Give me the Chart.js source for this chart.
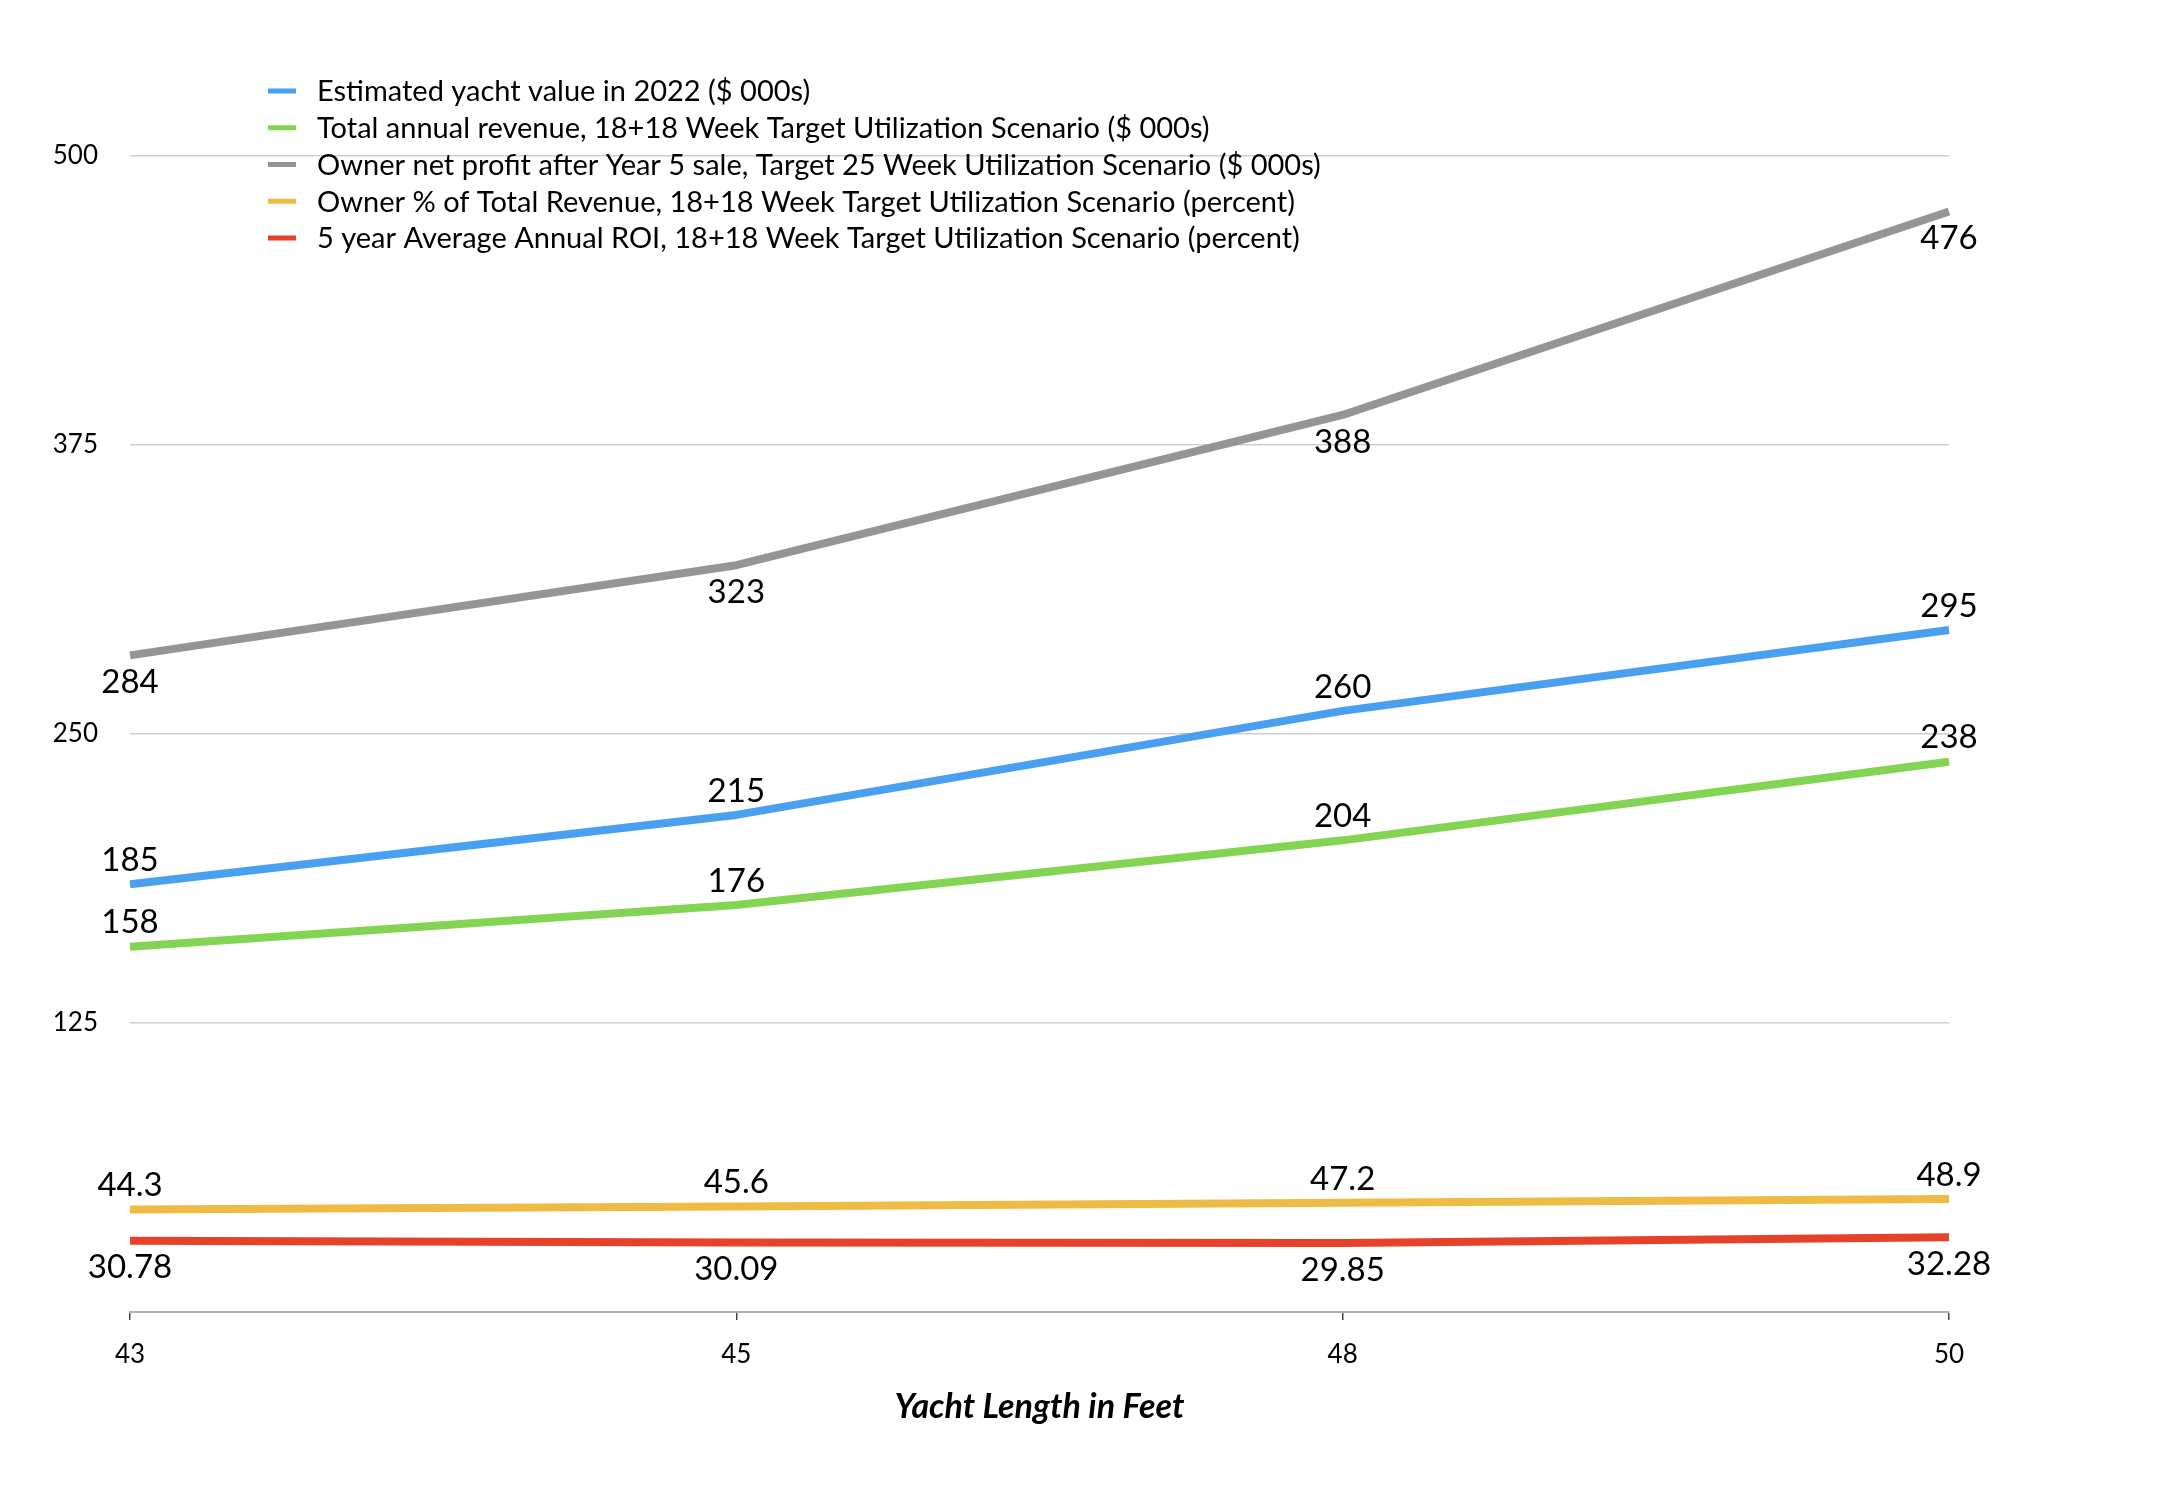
<!DOCTYPE html>
<html>
<head>
<meta charset="utf-8">
<script src="https://cdn.jsdelivr.net/npm/chart.js@4.4.0/dist/chart.umd.min.js"></script>
<style>
  html, body { margin: 0; padding: 0; background: #ffffff; }
  canvas { display: block; }
</style>
</head>
<body>
<canvas id="c" width="2172" height="1494"></canvas>
<script>
// ---- data ----
const categories = ['43', '45', '48', '50'];
const yachtValue = [185, 215, 260, 295];
const totalRevenue = [158, 176, 204, 238];
const ownerProfit = [284, 323, 388, 476];
const ownerPercent = [44.3, 45.6, 47.2, 48.9];
const averageRoi = [30.78, 30.09, 29.85, 32.28];
const yTickValues = [0, 125, 250, 375, 500];
const seriesLabels = [
  'Estimated yacht value in 2022 ($ 000s)',
  'Total annual revenue, 18+18 Week Target Utilization Scenario ($ 000s)',
  'Owner net profit after Year 5 sale, Target 25 Week Utilization Scenario ($ 000s)',
  'Owner % of Total Revenue, 18+18 Week Target Utilization Scenario (percent)',
  '5 year Average Annual ROI, 18+18 Week Target Utilization Scenario (percent)'
];
const xTitle = 'Yacht Length in Feet';

// ---- styles ----
const seriesColors = ['#4aa0f0', '#82d452', '#959595', '#eebc44', '#e8412a'];
const labelBelow = [false, false, true, false, true];
const FONT = 'Lato, "Noto Sans", sans-serif';

const seriesData = [yachtValue, totalRevenue, ownerProfit, ownerPercent, averageRoi];

const dataLabelPlugin = {
  id: 'dataLabelPlugin',
  afterDatasetsDraw(chart) {
    const ctx = chart.ctx;
    ctx.save();
    ctx.font = '33px ' + FONT;
    ctx.fillStyle = '#000000';
    ctx.textAlign = 'center';
    ctx.textBaseline = 'middle';
    chart.data.datasets.forEach((ds, i) => {
      const meta = chart.getDatasetMeta(i);
      meta.data.forEach((pt, j) => {
        const off = labelBelow[i] ? 27 : -24;
        ctx.fillText(String(ds.data[j]), pt.x, pt.y + off);
      });
    });
    ctx.restore();
  }
};

const legendPlugin = {
  id: 'customLegend',
  afterDraw(chart) {
    const ctx = chart.ctx;
    ctx.save();
    ctx.font = '29px ' + FONT;
    ctx.textAlign = 'left';
    ctx.textBaseline = 'middle';
    chart.data.datasets.forEach((ds, i) => {
      const y = 91 + i * 36.75;
      ctx.fillStyle = ds.borderColor;
      ctx.fillRect(268, y - 2.5, 28, 5);
      ctx.fillStyle = '#000000';
      ctx.fillText(ds.label, 317, y + 1);
    });
    ctx.restore();
  }
};

new Chart(document.getElementById('c'), {
  type: 'line',
  data: {
    labels: categories,
    datasets: seriesData.map((d, i) => ({
      label: seriesLabels[i],
      data: d,
      borderColor: seriesColors[i],
      backgroundColor: seriesColors[i],
      borderWidth: 8,
      borderCapStyle: 'butt',
      borderJoinStyle: 'round',
      pointRadius: 0,
      pointHoverRadius: 0,
      tension: 0,
      fill: false
    }))
  },
  options: {
    responsive: false,
    animation: false,
    devicePixelRatio: 1,
    layout: { padding: { top: 156, right: 223, bottom: 0, left: 0 } },
    plugins: {
      legend: { display: false },
      tooltip: { enabled: false }
    },
    scales: {
      x: {
        type: 'category',
        offset: false,
        grid: {
          drawOnChartArea: false,
          drawTicks: true,
          tickLength: 8,
          color: '#444444',
          lineWidth: 1.5
        },
        border: { display: true, color: '#b0b0b0', width: 2 },
        ticks: {
          color: '#000000',
          font: { family: FONT, size: 26 },
          padding: 19,
          maxRotation: 0
        },
        title: {
          display: true,
          text: xTitle,
          color: '#000000',
          font: { family: FONT, size: 34, weight: 'bold', style: 'italic' },
          padding: { top: 0, bottom: 67 }
        },
        afterFit(scale) { scale.height = 182; }
      },
      y: {
        min: 0,
        max: 500,
        afterBuildTicks(scale) { scale.ticks = yTickValues.map(v => ({ value: v })); },
        grid: {
          drawTicks: false,
          color: (c) => (c.tick && c.tick.value === 0) ? 'rgba(0,0,0,0)' : '#cfcfcf',
          lineWidth: 1.5
        },
        border: { display: false },
        ticks: {
          color: '#000000',
          font: { family: FONT, size: 26 },
          padding: 32,
          callback: (v) => (v === 0 ? '' : String(v))
        },
        afterFit(scale) { scale.width = 130; }
      }
    }
  },
  plugins: [dataLabelPlugin, legendPlugin]
});
</script>
</body>
</html>
